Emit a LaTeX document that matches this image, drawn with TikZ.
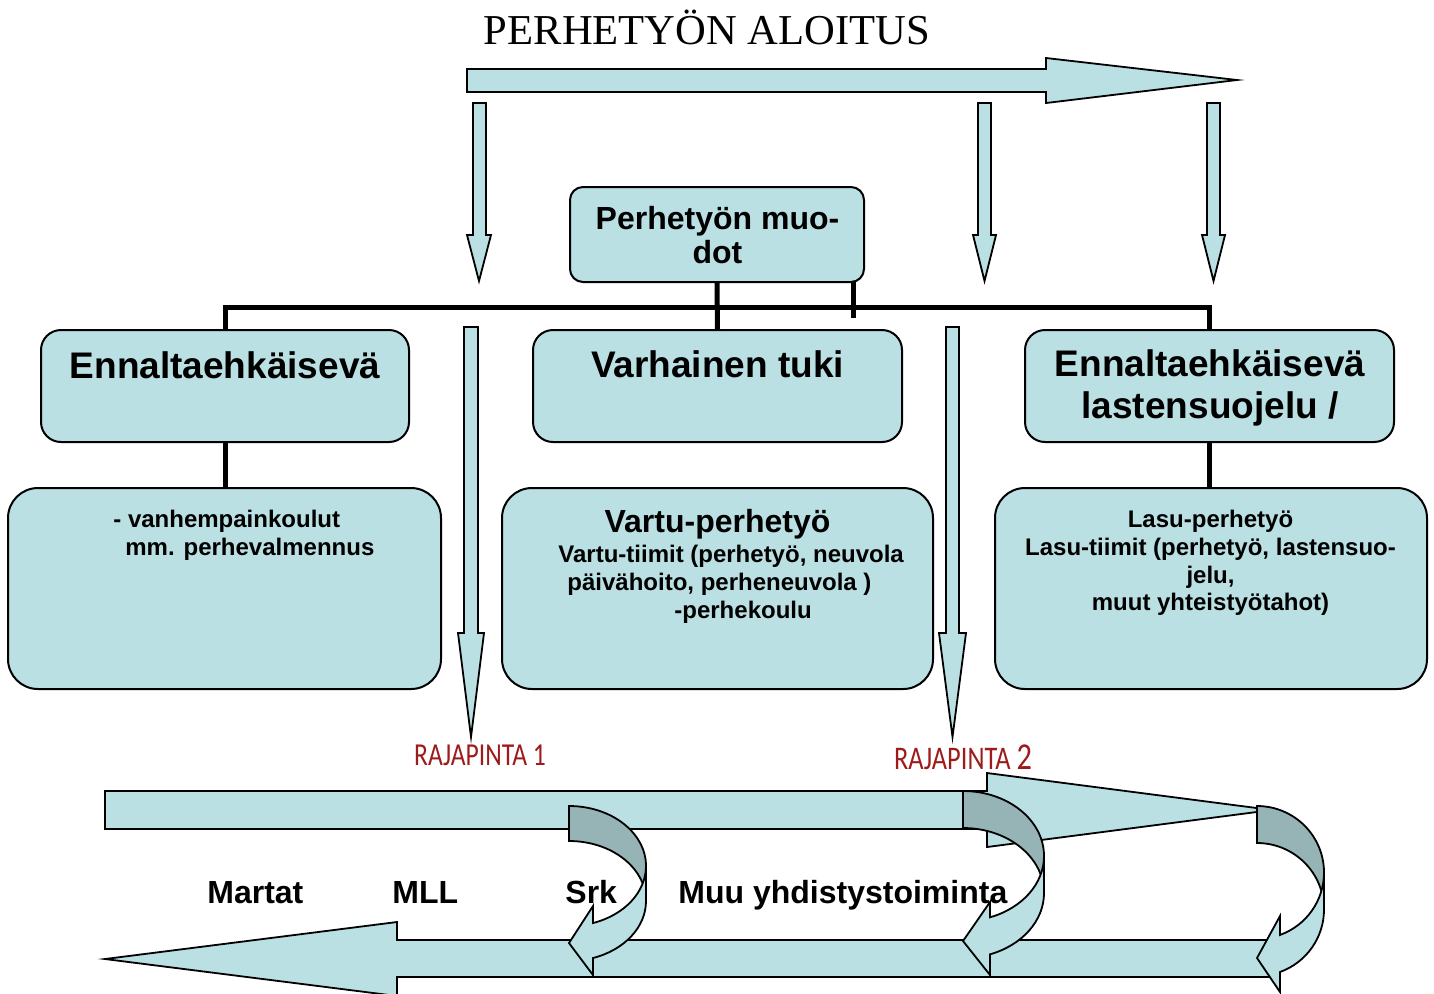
\documentclass[tikz,border=0pt]{standalone}
\usepackage{fontspec}
\usepackage{graphicx}
\setmainfont{Liberation Sans}
\newfontfamily\titlefont{Liberation Serif}
\newfontfamily\rajafont{Carlito}
\definecolor{lb}{HTML}{BAE0E3}
\definecolor{db}{HTML}{96B3B6}
\definecolor{rajared}{HTML}{9E1B1B}
\begin{document}
\begin{tikzpicture}[x=0.5pt,y=-0.5pt,
  box/.style={draw, line width=1pt, fill=lb, inner sep=0pt, outer sep=0pt},
  conn/.style={line width=2.5pt},
  blk/.style={draw, fill=lb, line width=0.9pt, line join=miter},
  dblk/.style={draw, fill=db, line width=0.9pt, line join=miter},
  bigtxt/.style={font=\bfseries\fontsize{18.5}{22}\selectfont, inner sep=0pt, anchor=base},
  midtxt/.style={font=\bfseries\fontsize{16}{19}\selectfont, inner sep=0pt, anchor=base},
  smalltxt/.style={font=\bfseries\fontsize{12}{14}\selectfont, inner sep=0pt, anchor=base},
  smallw/.style={font=\bfseries\fontsize{12}{14}\selectfont, inner sep=0pt, anchor=base west},
  labtxt/.style={font=\bfseries\fontsize{16}{19}\selectfont, inner sep=0pt, anchor=base west},
  rajatxt/.style={font=\rajafont\fontsize{16}{19}\selectfont, text=rajared, inner sep=0pt, anchor=base}]
\useasboundingbox (0,0) rectangle (1434,993);

% title
\node[font=\titlefont\fontsize{21.3}{24}\selectfont, inner sep=0pt, anchor=base] (title) at (707,44) {PERHETYÖN ALOITUS};

% top arrow
\draw[blk] (467,69) -- (1046,69) -- (1046,58) -- (1237,80) -- (1046,103) -- (1046,92) -- (467,92) -- cycle;

% small down arrows
\draw[blk] (473,103) -- (486,103) -- (486,235) -- (491,235) -- (479,281) -- (467,235) -- (473,235) -- cycle;
\draw[blk] (978,103) -- (991,103) -- (991,235) -- (996,235) -- (984.5,281) -- (973,235) -- (978,235) -- cycle;
\draw[blk] (1207,103) -- (1220,103) -- (1220,235) -- (1225,235) -- (1213.5,281) -- (1202,235) -- (1207,235) -- cycle;

% boxes
\node[box, rounded corners=6.5pt, minimum width=147pt, minimum height=47.5pt] (pm) at (717,234.5) {};
\node[box, rounded corners=10pt, minimum width=184pt, minimum height=56pt] (e1) at (225,386) {};
\node[box, rounded corners=10pt, minimum width=184.5pt, minimum height=56pt] (vt) at (717.5,386) {};
\node[box, rounded corners=10pt, minimum width=184.5pt, minimum height=56pt] (e2) at (1209.5,386) {};
\node[box, rounded corners=15pt, minimum width=216.5pt, minimum height=100.5pt] (l1) at (224.5,588.5) {};
\node[box, rounded corners=15pt, minimum width=215.5pt, minimum height=100.5pt] (l2) at (717.5,588.5) {};
\node[box, rounded corners=15pt, minimum width=216pt, minimum height=100.5pt] (l3) at (1211,588.5) {};

% connectors
\coordinate (stub) at (853,318);
\draw[conn] (e1.north) -- ++(0,-23) -| (e2.north);
\draw[conn] (pm.south) -- (vt.north);
\draw[conn] (stub |- pm.south) -- (stub);
\draw[conn] (e1.south) -- (e1.south |- l1.north);
\draw[conn] (e2.south) -- (e2.south |- l3.north);

% box texts
\node[midtxt] (pm1) at (717.5,229) {Perhetyön muo-};
\node[midtxt] (pm2) at (717.5,263) {dot};
\node[bigtxt] (e1t) at (225,378) {Ennaltaehkäisevä};
\node[bigtxt] (vtt) at (717.5,377) {Varhainen tuki};
\node[bigtxt] (e2t1) at (1210,376) {Ennaltaehkäisevä};
\node[bigtxt] (e2t2) at (1210,418) {lastensuojelu /};

\node[smallw] (l1a) at (113,527) {- vanhempainkoulut};
\node[smallw] (l1b) at (125,555) {mm. perhevalmennus};

\node[midtxt] (l2t) at (717.5,532) {Vartu-perhetyö};
\node[smallw] (l2a) at (558,562) {Vartu-tiimit (perhetyö, neuvola};
\node[smallw] (l2b) at (567,590) {päivähoito, perheneuvola )};
\node[smallw] (l2c) at (674,618) {-perhekoulu};

\node[smalltxt] (l3a) at (1210.5,527) {Lasu-perhetyö};
\node[smalltxt] (l3b) at (1210.5,555) {Lasu-tiimit (perhetyö, lastensuo-};
\node[smalltxt] (l3c) at (1210.5,583) {jelu,};
\node[smalltxt] (l3d) at (1210.5,610) {muut yhteistyötahot)};

% rajapinta arrows
\draw[blk] (464,327) -- (478,327) -- (478,633) -- (484,633) -- (471,737) -- (458,633) -- (464,633) -- cycle;
\draw[blk] (946,327) -- (959,327) -- (959,633) -- (966,633) -- (952.5,737) -- (939,633) -- (946,633) -- cycle;
\node[rajatxt] (r1) at (480,765) {\scalebox{0.8}[1]{RAJAPINTA 1}};
\node[rajatxt] (r2) at (963,769) {\scalebox{0.8}[1]{\fontsize{16.5}{19}\selectfont RAJAPINTA \fontsize{19}{20}\selectfont 2}};

% bottom arrows
\draw[blk] (105,791) -- (987,791) -- (987,773) -- (1272,810) -- (987,847) -- (987,829) -- (105,829) -- cycle;
\draw[blk] (1275,940) -- (397,940) -- (397,922) -- (105,959) -- (397,996) -- (397,977) -- (1275,977) -- cycle;

% curl 1
\draw[dblk] (569,806) arc[start angle=-90, end angle=0, x radius=77, y radius=60] -- (646,901) arc[start angle=0, end angle=-90, x radius=77, y radius=60] -- cycle;
\draw[blk] (646,866) arc[start angle=0, end angle=71.84, x radius=77, y radius=60] -- (593,906) -- (569,943) -- (593,975) -- (593,958) arc[start angle=71.84, end angle=0, x radius=77, y radius=60] -- cycle;
% curl 2
\draw[dblk] (963,791) arc[start angle=-90, end angle=0, x radius=81, y radius=65] -- (1044,893) arc[start angle=0, end angle=-90, x radius=81, y radius=65] -- cycle;
\draw[blk] (1044,856) arc[start angle=0, end angle=70.53, x radius=81, y radius=65] -- (990,902) -- (963,941) -- (990,975) -- (990,954.3) arc[start angle=70.53, end angle=0, x radius=81, y radius=65] -- cycle;
% curl 3
\draw[dblk] (1257,806) arc[start angle=-90, end angle=0, x radius=67, y radius=66.5] -- (1324,909.5) arc[start angle=0, end angle=-90, x radius=67, y radius=66.5] -- cycle;
\draw[blk] (1324,872.5) arc[start angle=0, end angle=69.92, x radius=67, y radius=66.5] -- (1280,916) -- (1257,958) -- (1280,992) -- (1280,972) arc[start angle=69.92, end angle=0, x radius=67, y radius=66.5] -- cycle;

% bottom labels
\node[labtxt] (martat) at (207,903) {Martat};
\node[labtxt] (mll) at (392,903) {MLL};
\node[labtxt] (srk) at (565,903) {Srk};
\node[labtxt] (muu) at (678,903) {Muu yhdistystoiminta};
\end{tikzpicture}
\end{document}
